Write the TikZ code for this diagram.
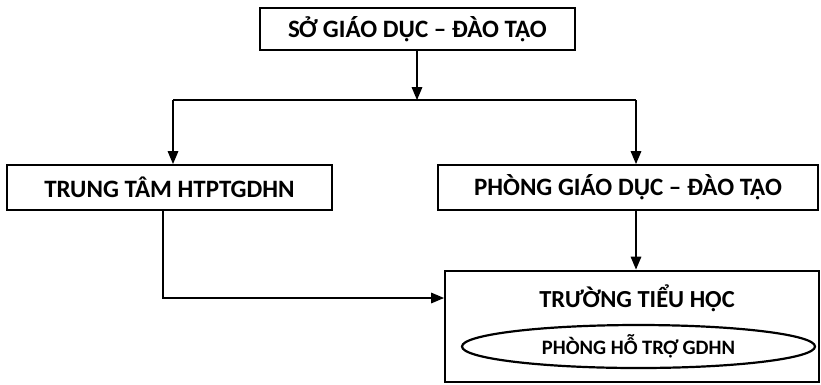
\documentclass[tikz,border=0pt]{standalone}
\usepackage{fontspec}
\setmainfont{Carlito}
\usetikzlibrary{positioning,arrows,shapes.geometric,calc}
\tikzset{
  unit/.style={draw=black, line width=2pt, rectangle, inner sep=0pt,
    font=\fontsize{25}{28}\selectfont\bfseries},
  link/.style={draw=black, line width=2pt, -triangle 45},
  bar/.style={draw=black, line width=2pt},
  room/.style={draw=black, line width=2.2pt, ellipse, inner sep=0pt,
    font=\fontsize{20.5}{24}\selectfont\bfseries}
}

\begin{document}
\begin{tikzpicture}[x=1pt,y=-1pt]
  \useasboundingbox (0,0) rectangle (821,384);
  \node[unit, minimum width=315pt, minimum height=42pt] (so) at (417.5,29) {SỞ GIÁO DỤC – ĐÀO TẠO};
  \node[unit, minimum width=325pt, minimum height=45pt] (ttam) at (169.5,187.5) {TRUNG TÂM HTPTGDHN};
  \node[unit, minimum width=380pt, minimum height=45pt] (phong) at (628,187.5) {PHÒNG GIÁO DỤC – ĐÀO TẠO};
  \node[unit, minimum width=374pt, minimum height=111pt] (truong) at (632,326) {};
  \node[font=\fontsize{24.5}{28}\selectfont\bfseries] (ten) at (637,298) {TRƯỜNG TIỂU HỌC};
  \node[room, minimum width=353pt, minimum height=43pt] (hotro) at (638.5,346.5) {PHÒNG HỖ TRỢ GDHN};

  \coordinate (mid) at (417,100);
  \coordinate (barL) at (173,100);
  \coordinate (barR) at (636,100);
  \coordinate (turn) at (163,298);

  \draw[link] (so.south -| mid) -- (mid);
  \draw[bar] (barL) -- (barR);
  \draw[link] (barL) -- (barL |- ttam.north);
  \draw[link] (barR) -- (barR |- phong.north);
  \draw[link] (turn |- ttam.south) -- (turn) -- (turn -| truong.west);
  \draw[link] (barR |- phong.south) -- (barR |- truong.north);
\end{tikzpicture}
\end{document}
